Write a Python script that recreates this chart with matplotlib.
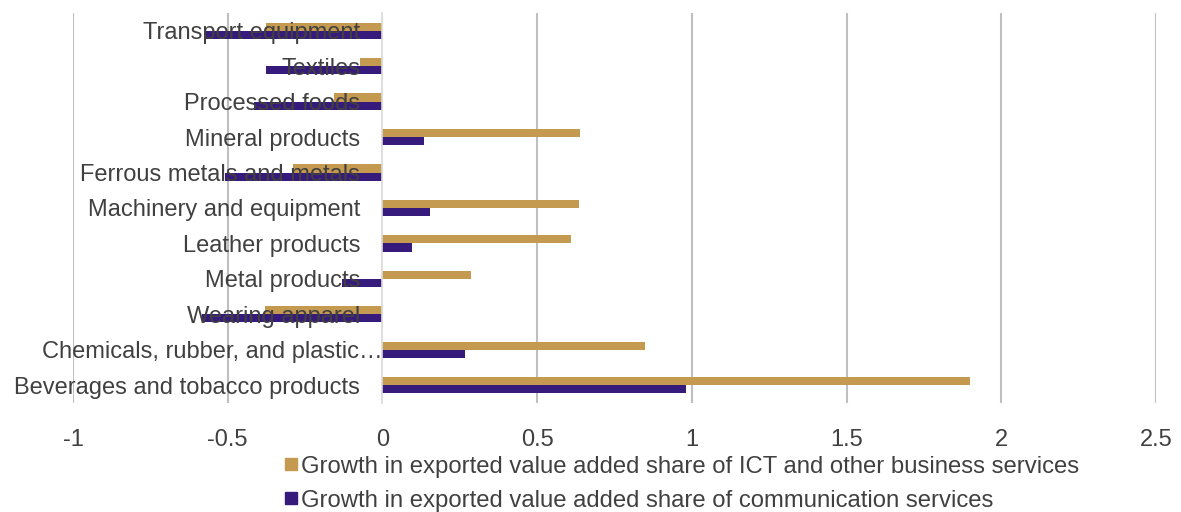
import numpy as np
import matplotlib
matplotlib.use('Agg')
import matplotlib.pyplot as plt
import matplotlib.transforms as mtransforms
from matplotlib.lines import Line2D

# Данные (снизу вверх, как в Excel)
categories = [
    'Beverages and tobacco products',
    'Chemicals, rubber, and plastic…',
    'Wearing apparel',
    'Metal products',
    'Leather products',
    'Machinery and equipment',
    'Ferrous metals and metals',
    'Mineral products',
    'Processed foods',
    'Textiles',
    'Transport equipment',
]
ict_growth = [1.90, 0.85, -0.38, 0.285, 0.61, 0.635, -0.29, 0.64, -0.155, -0.073, -0.375]
comm_growth = [0.98, 0.268, -0.582, -0.13, 0.096, 0.155, -0.509, 0.134, -0.415, -0.375, -0.573]
xticks = [-1, -0.5, 0, 0.5, 1, 1.5, 2, 2.5]
xtick_labels = ['-1', '-0.5', '0', '0.5', '1', '1.5', '2', '2.5']

ict_label = 'Growth in exported value added share of ICT and other business services'
comm_label = 'Growth in exported value added share of communication services'

GOLD = '#C49A51'
PURPLE = '#371B7C'
TEXT = '#404040'

plt.rcParams['font.family'] = ['Liberation Sans', 'DejaVu Sans']

fig = plt.figure(figsize=(11.81, 5.12), dpi=100)
ax = fig.add_axes([0.0618, 0.213, 0.917, 0.7616])

y = np.arange(len(categories))
h = 0.23
ax.barh(y + h / 2, ict_growth, height=h, color=GOLD, zorder=2)
ax.barh(y - h / 2, comm_growth, height=h, color=PURPLE, zorder=2)

ax.set_xlim(-1, 2.5)
ax.set_ylim(-0.5, len(categories) - 0.5)
ax.set_xticks(xticks)
ax.set_xticklabels(xtick_labels)
ax.set_yticks(y)
ax.set_yticklabels(categories)

# Сетка и оси
ax.set_axisbelow(True)
ax.grid(axis='x', color='#BFBFBF', linewidth=1.5)
ax.grid(axis='y', visible=False)
ax.get_xgridlines()[2].set_visible(False)
for s in ['top', 'right', 'bottom']:
    ax.spines[s].set_visible(False)
ax.spines['left'].set_position(('data', 0))
ax.spines['left'].set_color('#D9D9D9')
ax.spines['left'].set_linewidth(1.2)
ax.spines['left'].set_zorder(3)
# подписи категорий поверх столбцов
ax.yaxis.set_zorder(5)

ax.tick_params(axis='y', length=0, pad=16, labelsize=17, labelcolor=TEXT)
ax.tick_params(axis='x', length=0, pad=18.5, labelsize=17, labelcolor=TEXT)

# Excel сдвигает обрезанную подпись вправо
chem = ax.get_yticklabels()[1]
chem.set_transform(chem.get_transform() + mtransforms.ScaledTranslation(0.22, 0, fig.dpi_scale_trans))

# Легенда с квадратными маркерами
handles = [
    Line2D([], [], marker='s', linestyle='none', color=GOLD, markersize=8.6, label=ict_label),
    Line2D([], [], marker='s', linestyle='none', color=PURPLE, markersize=8.6, label=comm_label),
]
leg = fig.legend(handles=handles, loc='upper left', bbox_to_anchor=(0.2413, 0.11),
                 frameon=False, fontsize=17.2, handlelength=0.5,
                 handletextpad=0.15, labelspacing=0.5, borderaxespad=0, borderpad=0)
for t in leg.get_texts():
    t.set_color(TEXT)

fig.savefig('out.png', dpi=100)
